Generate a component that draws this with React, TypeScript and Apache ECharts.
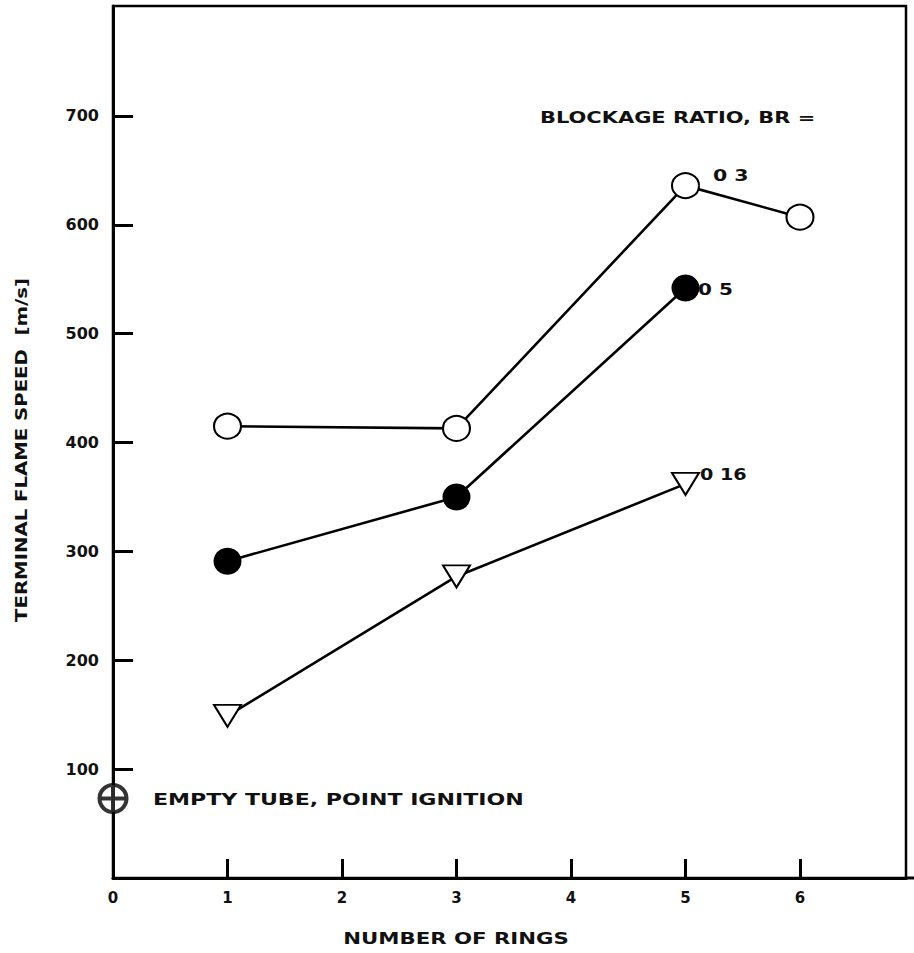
import React, { useEffect, useRef } from "react";
import * as echarts from "echarts";

// ---- data ----
const xTickValues = [1, 2, 3, 4, 5, 6];
const xLabelValues = [0, 1, 2, 3, 4, 5, 6];
const yTickValues = [100, 200, 300, 400, 500, 600, 700];
const br03 = [[1, 415], [3, 413], [5, 636], [6, 607]];
const br05 = [[1, 291], [3, 350], [5, 542]];
const br016 = [[1, 149], [3, 277], [5, 362]];
const emptyTube = [[0, 73]];

const FONT = "DejaVu Sans";
const INK = "#111";

export default function App() {
  const ref = useRef<HTMLDivElement>(null);
  useEffect(() => {
    document.body.style.margin = "0";
    const chart = echarts.init(ref.current!, null, { renderer: "svg" });
    const txt = (text: string, x: number, y: number, opts: any = {}) => ({
      type: "text",
      x,
      y,
      scaleX: opts.scaleX ?? 1,
      rotation: opts.rotation ?? 0,
      style: {
        text,
        fontFamily: FONT,
        fontWeight: "bold",
        fontSize: opts.fontSize ?? 16,
        fill: INK,
        align: opts.align ?? "left",
        verticalAlign: "middle",
      },
    });
    const lineStyle = { color: "#000", width: 2.6 };
    chart.setOption({
      animation: false,
      backgroundColor: "#fff",
      grid: {
        left: 113,
        top: 6,
        width: 793,
        bottom: 75,
        show: true,
        borderColor: "#000",
        borderWidth: 2.5,
        containLabel: false,
      },
      xAxis: {
        type: "value",
        min: 0,
        max: 6.926,
        splitLine: { show: false },
        axisLine: { lineStyle: { color: "#000", width: 3 } },
        axisTick: {
          inside: true,
          length: 19,
          customValues: xTickValues,
          lineStyle: { color: "#000", width: 3 },
        },
        axisLabel: {
          customValues: xLabelValues,
          margin: 12,
          fontFamily: FONT,
          fontWeight: "bold",
          fontSize: 15,
          color: INK,
        },
      },
      yAxis: {
        type: "value",
        min: 0,
        max: 801,
        splitLine: { show: false },
        axisLine: { lineStyle: { color: "#000", width: 3 } },
        axisTick: {
          inside: true,
          length: 20,
          customValues: yTickValues,
          lineStyle: { color: "#000", width: 3 },
        },
        axisLabel: {
          customValues: yTickValues,
          margin: 14,
          fontFamily: FONT,
          fontWeight: "bold",
          fontSize: 16,
          color: INK,
        },
      },
      series: [
        {
          name: "BR 0.3",
          type: "line",
          data: br03,
          symbol: "emptyCircle",
          symbolSize: [27, 25],
          clip: false,
          lineStyle,
          itemStyle: { color: "#000", borderColor: "#000", borderWidth: 3.2 },
          z: 3,
        },
        {
          name: "BR 0.5",
          type: "line",
          data: br05,
          symbol: "circle",
          symbolSize: [28, 27],
          clip: false,
          lineStyle,
          itemStyle: { color: "#000" },
          z: 3,
        },
        {
          name: "BR 0.16",
          type: "line",
          data: br016,
          symbol: "emptyTriangle",
          symbolRotate: 180,
          symbolSize: [27, 22],
          clip: false,
          lineStyle,
          itemStyle: { color: "#000", borderColor: "#000", borderWidth: 3.5 },
          z: 3,
        },
        {
          name: "Empty tube, point ignition",
          type: "scatter",
          data: emptyTube,
          symbol: "path://M0 10A10 10 0 1 1 20 10A10 10 0 1 1 0 10ZM0 10L20 10M10 0L10 20",
          symbolSize: 27,
          clip: false,
          itemStyle: { color: "#fff", borderColor: "#000", borderWidth: 4 },
          z: 4,
        },
      ],
      graphic: [
        { type: "line", shape: { x1: 905, y1: 878, x2: 914, y2: 878 }, style: { stroke: "#000", lineWidth: 3 } },
        txt("BLOCKAGE RATIO, BR =", 540, 117, { scaleX: 1.31 }),
        txt("0 3", 713, 175, { scaleX: 1.28 }),
        txt("0 5", 698, 289, { scaleX: 1.25 }),
        txt("0 16", 700, 475, { scaleX: 1.2 }),
        txt("EMPTY TUBE, POINT IGNITION", 153, 800, { scaleX: 1.38 }),
        txt("NUMBER OF RINGS", 456, 938, { scaleX: 1.33, align: "center" }),
        txt("TERMINAL FLAME SPEED  [m/s]", 21, 450, {
          scaleX: 1.23,
          align: "center",
          rotation: Math.PI / 2,
        }),
      ],
    });
    return () => chart.dispose();
  }, []);
  return <div ref={ref} style={{ width: 914, height: 953 }} />;
}
